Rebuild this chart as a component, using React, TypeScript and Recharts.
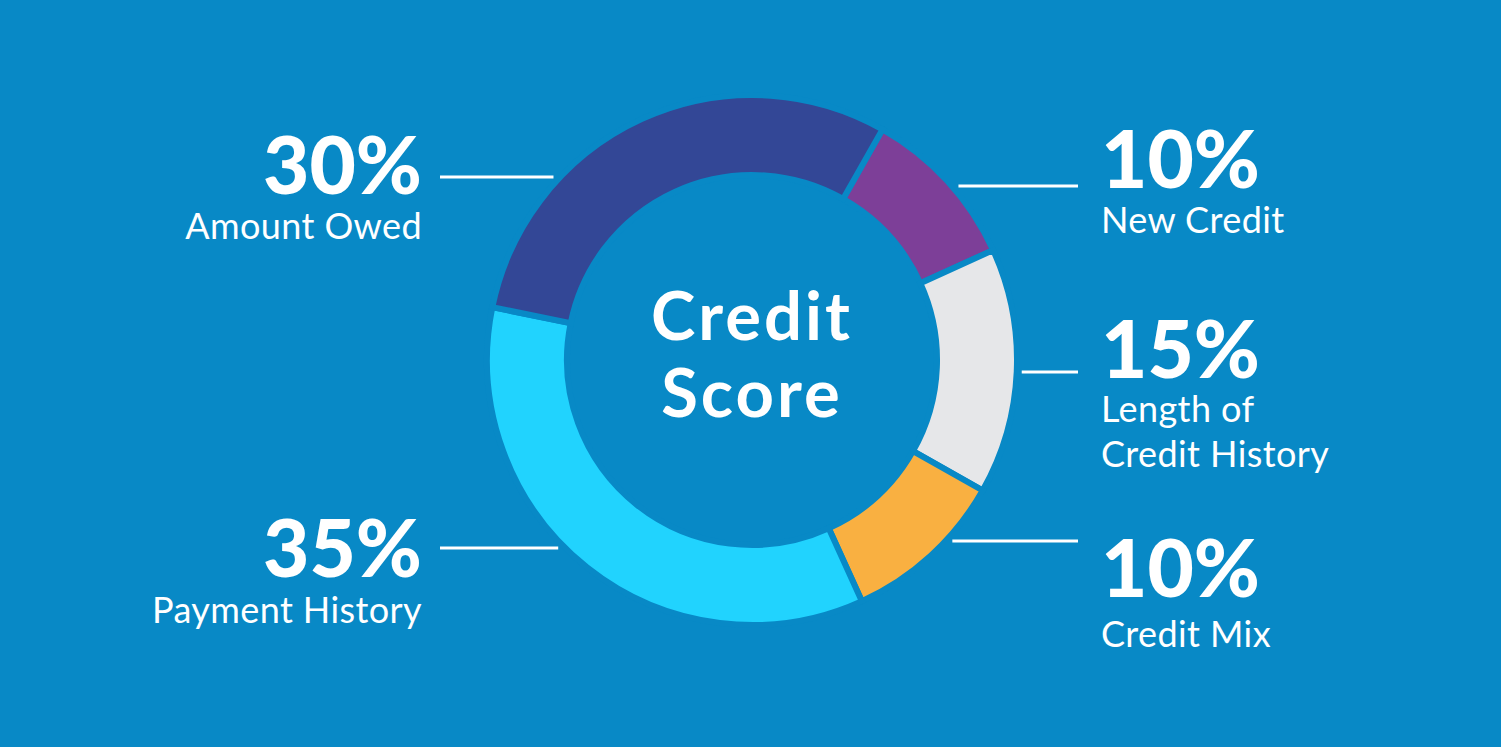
import { PieChart, Pie, Cell } from 'recharts';

const BG = '#0889C6';

// slices in clockwise order, starting at the top right
const categories = ['New Credit', 'Length of Credit History', 'Credit Mix', 'Payment History', 'Amount Owed'];
const shares = [10, 15, 10, 35, 30];
const captionLines = [['New Credit'], ['Length of', 'Credit History'], ['Credit Mix'], ['Payment History'], ['Amount Owed']];
const centerTitle = ['Credit', 'Score'];
const sliceColors = ['#7D3F98', '#E6E7E9', '#F9B041', '#21D3FE', '#334796'];

// label layout: y offsets from pie centre
const labelLayout: Record<string, { side: 'left' | 'right'; lineDy: number; pctDy: number; capDy: number[] }> = {
  'New Credit': { side: 'right', lineDy: -174, pctDy: -172, capDy: [-127] },
  'Length of Credit History': { side: 'right', lineDy: 12, pctDy: 18, capDy: [62, 107] },
  'Credit Mix': { side: 'right', lineDy: 181, pctDy: 237, capDy: [287] },
  'Payment History': { side: 'left', lineDy: 188, pctDy: 217, capDy: [263] },
  'Amount Owed': { side: 'left', lineDy: -183, pctDy: -166, capDy: [-121] },
};

const chartData = categories.map((name, i) => ({ name, value: shares[i], lines: captionLines[i] }));

const FONT = 'Lato, sans-serif';

const renderLabel = (props: any) => {
  const { cx, cy, outerRadius, name, value, payload, index } = props;
  const lay = labelLayout[name];
  if (!lay) return null;
  const r = outerRadius + 5;
  const ly = cy + lay.lineDy;
  const dx = Math.sqrt(Math.max(r * r - lay.lineDy * lay.lineDy, 0));
  const left = lay.side === 'left';
  const x1 = left ? cx - dx : cx + dx;
  const x2 = left ? cx - 312 : cx + 326;
  const tx = left ? cx - 330 : cx + 349;
  const anchor = left ? 'end' : 'start';
  const lines: string[] = payload?.lines ?? [name];
  return (
    <g>
      {index === 0 &&
        centerTitle.map((t, i) => (
          <text key={t} x={cx} y={cy - 20 + i * 77} textAnchor="middle" fill="#fff" fontFamily={FONT} fontWeight={700} fontSize={67} letterSpacing={3}>
            {t}
          </text>
        ))}
      <line x1={x1} y1={ly} x2={x2} y2={ly} stroke="#fff" strokeWidth={3} />
      <text x={tx} y={cy + lay.pctDy} textAnchor={anchor} fill="#fff" fontFamily={FONT} fontWeight={900} fontSize={80}>
        {`${value}%`}
      </text>
      {lines.map((t, i) => (
        <text key={i} x={tx} y={cy + lay.capDy[i]} textAnchor={anchor} fill="#fff" fontFamily={FONT} fontSize={36} letterSpacing={0.4}>
          {t}
        </text>
      ))}
    </g>
  );
};

export default function App() {
  return (
    <div style={{ position: 'absolute', left: 0, top: 0, width: 1501, height: 747, background: BG }}>
      <PieChart width={1501} height={747} margin={{ top: 0, right: 0, bottom: 0, left: 0 }}>
        <Pie
          data={chartData}
          dataKey="value"
          nameKey="name"
          cx={752}
          cy={360}
          innerRadius={185}
          outerRadius={265}
          startAngle={60.5}
          endAngle={-299.5}
          stroke={BG}
          strokeWidth={6}
          label={renderLabel}
          labelLine={false}
          isAnimationActive={false}
        >
          {chartData.map((d, i) => (
            <Cell key={d.name} fill={sliceColors[i]} />
          ))}
        </Pie>
      </PieChart>
    </div>
  );
}
